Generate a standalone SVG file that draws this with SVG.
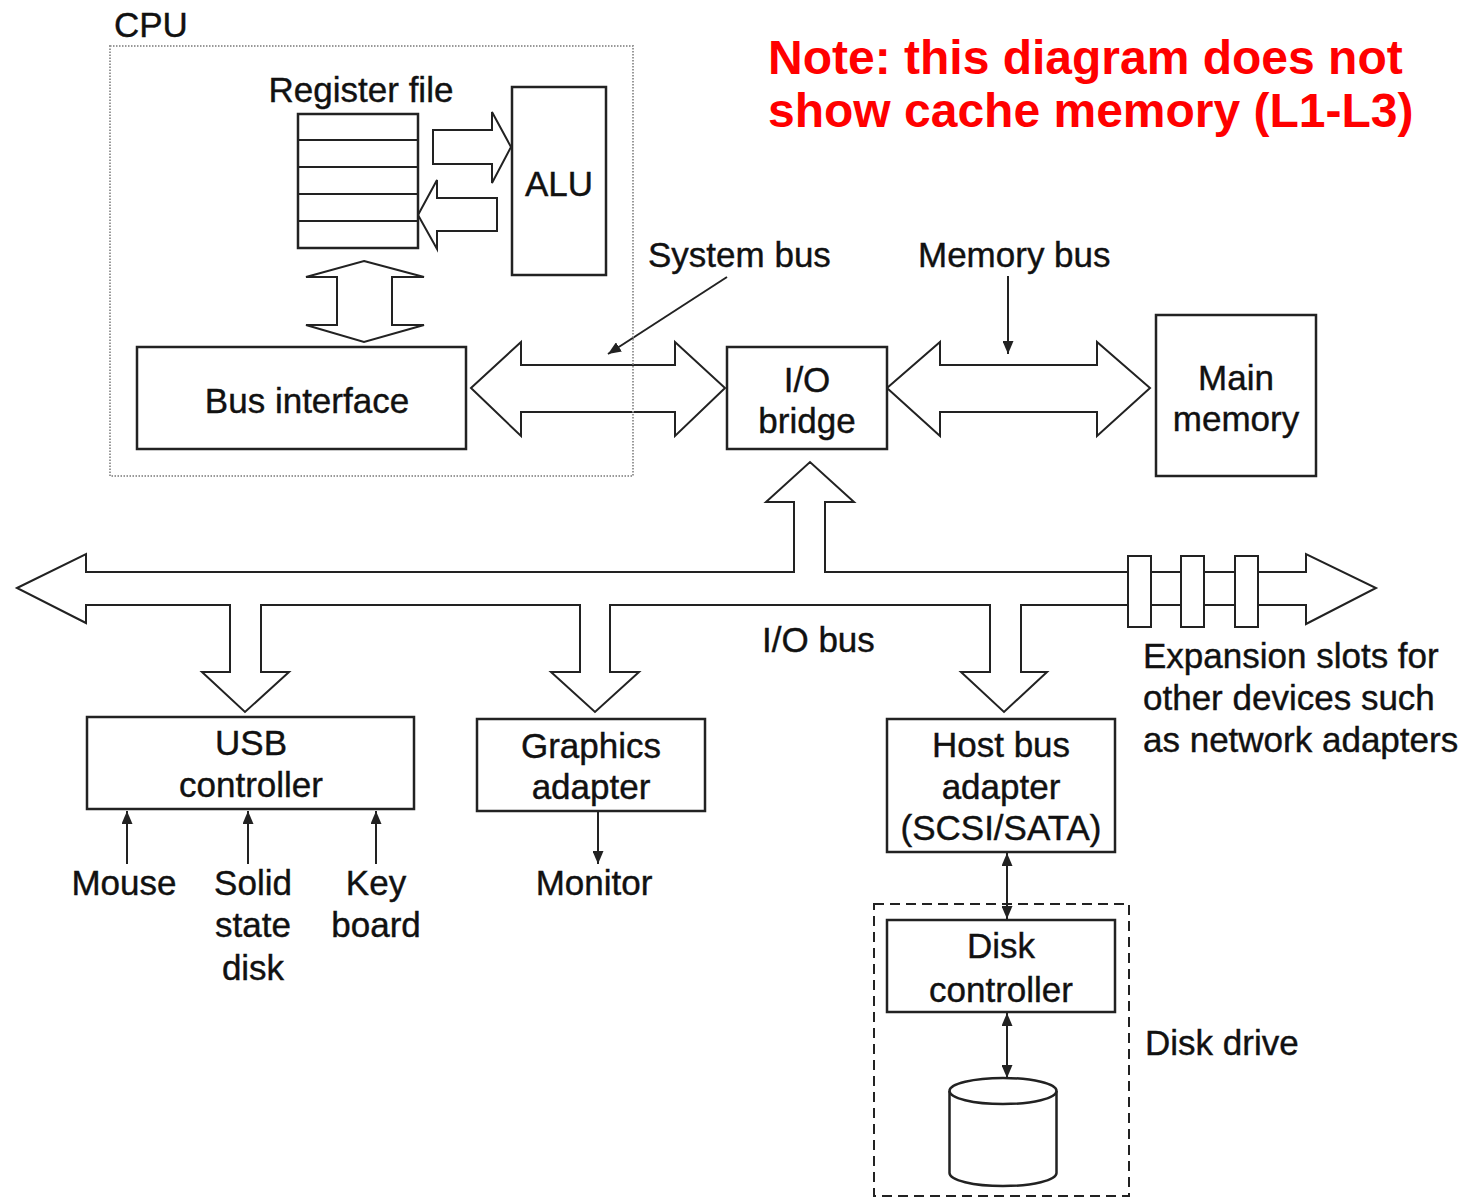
<svg xmlns="http://www.w3.org/2000/svg" width="1470" height="1198" viewBox="0 0 1470 1198">
  <style>
    .box { fill: #fff; stroke: #222; stroke-width: 2.5; }
    .bus { fill: #fff; stroke: #222; stroke-width: 2; stroke-linejoin: miter; }
    .wire { fill: none; stroke: #222; stroke-width: 2; }
    .lbl { font-family: "Liberation Sans", Arial, sans-serif; font-size: 35px; fill: #111; stroke: #111; stroke-width: 0.4; }
    .mid { text-anchor: middle; }
    .note { font-family: "Liberation Sans", Arial, sans-serif; font-size: 48px; font-weight: bold; fill: #ff0000; }
  </style>
  <defs>
    <marker id="tip" viewBox="0 0 13 11" refX="13" refY="5.5" markerWidth="13" markerHeight="11" markerUnits="userSpaceOnUse" orient="auto-start-reverse">
      <path d="M0,0 L13,5.5 L0,11 z" fill="#222"/>
    </marker>
  </defs>
  <rect width="1470" height="1198" fill="#fff"/>

  <!-- connectors: buses and signal lines -->
  <g id="connectors">
    <!-- register file -> ALU -->
    <polygon class="bus" points="433,130 492,130 492,112 511,147 492,183 492,164 433,164"/>
    <!-- ALU -> register file -->
    <polygon class="bus" points="497,198 437,198 437,180 418,215 437,249 437,231 497,231"/>
    <!-- register file <-> bus interface -->
    <polygon class="bus" points="364,261 424,277 392,277 392,325 424,325 364,342 306,325 337,325 337,277 306,277"/>
    <!-- system bus -->
    <polygon class="bus" points="471,388 521,342 521,365 675,365 675,342 725,388 675,436 675,412 521,412 521,436"/>
    <!-- memory bus -->
    <polygon class="bus" points="887,388 940,342 940,365 1097,365 1097,342 1150,388 1097,436 1097,412 940,412 940,436"/>
    <!-- I/O bus with branches -->
    <polygon class="bus" points="17,588 86,554 86,572 794,572 794,502 766,502 810,462 854,502 825,502 825,572 1306,572 1306,554 1376,588 1306,624 1306,605 1021,605 1021,672 1047,672 1004,712 961,672 990,672 990,605 610,605 610,672 639,672 595,712 551,672 580,672 580,605 261,605 261,672 289,672 245,712 202,672 230,672 230,605 86,605 86,623"/>
    <!-- expansion slots -->
    <rect class="bus" x="1128" y="556" width="23" height="71"/>
    <rect class="bus" x="1181" y="556" width="23" height="71"/>
    <rect class="bus" x="1235" y="556" width="23" height="71"/>
    <!-- label pointers -->
    <line class="wire" x1="727" y1="277" x2="608" y2="354" marker-end="url(#tip)"/>
    <line class="wire" x1="1008" y1="276" x2="1008" y2="354" marker-end="url(#tip)"/>
    <!-- USB devices -->
    <line class="wire" x1="127" y1="864" x2="127" y2="811" marker-end="url(#tip)"/>
    <line class="wire" x1="248" y1="864" x2="248" y2="811" marker-end="url(#tip)"/>
    <line class="wire" x1="376" y1="864" x2="376" y2="811" marker-end="url(#tip)"/>
    <!-- graphics -> monitor -->
    <line class="wire" x1="598" y1="811" x2="598" y2="864" marker-end="url(#tip)"/>
    <!-- host bus adapter <-> disk controller <-> disk -->
    <line class="wire" x1="1007" y1="853" x2="1007" y2="919" marker-start="url(#tip)" marker-end="url(#tip)"/>
    <line class="wire" x1="1007" y1="1013" x2="1007" y2="1078" marker-start="url(#tip)" marker-end="url(#tip)"/>
  </g>

  <!-- CPU -->
  <g id="cpu">
    <rect x="110" y="46" width="523" height="430" fill="none" stroke="#999" stroke-width="2" stroke-dasharray="1.5 1.5"/>
    <text class="lbl" x="114" y="37" font-size="36">CPU</text>
  </g>
  <g id="register-file">
    <text class="lbl mid" x="361" y="102">Register file</text>
    <rect class="box" x="298" y="114" width="120" height="134"/>
    <path class="wire" d="M298,140 H418 M298,167 H418 M298,194 H418 M298,221 H418"/>
  </g>
  <g id="alu">
    <rect class="box" x="512" y="87" width="94" height="188"/>
    <text class="lbl mid" x="559" y="196">ALU</text>
  </g>
  <g id="bus-interface">
    <rect class="box" x="137" y="347" width="329" height="102"/>
    <text class="lbl mid" x="307" y="413">Bus interface</text>
  </g>

  <!-- bus labels -->
  <g id="bus-labels">
    <text class="lbl" x="648" y="267">System bus</text>
    <text class="lbl" x="918" y="267">Memory bus</text>
    <text class="lbl" x="762" y="652">I/O bus</text>
  </g>

  <g id="io-bridge">
    <rect class="box" x="727" y="347" width="160" height="102"/>
    <text class="lbl mid" x="807" y="392">I/O</text>
    <text class="lbl mid" x="807" y="433">bridge</text>
  </g>
  <g id="main-memory">
    <rect class="box" x="1156" y="315" width="160" height="161"/>
    <text class="lbl mid" x="1236" y="390">Main</text>
    <text class="lbl mid" x="1236" y="431">memory</text>
  </g>

  <g id="usb-controller">
    <rect class="box" x="87" y="717" width="327" height="92"/>
    <text class="lbl mid" x="251" y="755">USB</text>
    <text class="lbl mid" x="251" y="797">controller</text>
  </g>
  <g id="usb-devices">
    <text class="lbl mid" x="124" y="895">Mouse</text>
    <text class="lbl mid" x="253" y="895">Solid</text>
    <text class="lbl mid" x="253" y="937">state</text>
    <text class="lbl mid" x="253" y="980">disk</text>
    <text class="lbl mid" x="376" y="895">Key</text>
    <text class="lbl mid" x="376" y="937">board</text>
  </g>

  <g id="graphics-adapter">
    <rect class="box" x="477" y="719" width="228" height="92"/>
    <text class="lbl mid" x="591" y="758">Graphics</text>
    <text class="lbl mid" x="591" y="799">adapter</text>
  </g>
  <g id="monitor">
    <text class="lbl mid" x="594" y="895">Monitor</text>
  </g>

  <g id="host-bus-adapter">
    <rect class="box" x="887" y="719" width="228" height="133"/>
    <text class="lbl mid" x="1001" y="757">Host bus</text>
    <text class="lbl mid" x="1001" y="799">adapter</text>
    <text class="lbl mid" x="1001" y="840">(SCSI/SATA)</text>
  </g>

  <g id="expansion-note">
    <text class="lbl" x="1143" y="668">Expansion slots for</text>
    <text class="lbl" x="1143" y="710">other devices such</text>
    <text class="lbl" x="1143" y="752">as network adapters</text>
  </g>

  <g id="disk-drive">
    <rect x="874" y="904" width="255" height="292" fill="none" stroke="#222" stroke-width="2" stroke-dasharray="10 6"/>
    <text class="lbl" x="1145" y="1055">Disk drive</text>
  </g>
  <g id="disk-controller">
    <rect class="box" x="887" y="920" width="228" height="92"/>
    <text class="lbl mid" x="1001" y="958">Disk</text>
    <text class="lbl mid" x="1001" y="1002">controller</text>
  </g>
  <g id="disk">
    <path class="box" d="M949.5,1091 V1173 A53.5,13 0 0 0 1056.5,1173 V1091"/>
    <ellipse class="box" cx="1003" cy="1091" rx="53.5" ry="13"/>
  </g>

  <g id="note">
    <text class="note" x="768" y="74">Note: this diagram does not</text>
    <text class="note" x="768" y="127">show cache memory (L1-L3)</text>
  </g>
</svg>
